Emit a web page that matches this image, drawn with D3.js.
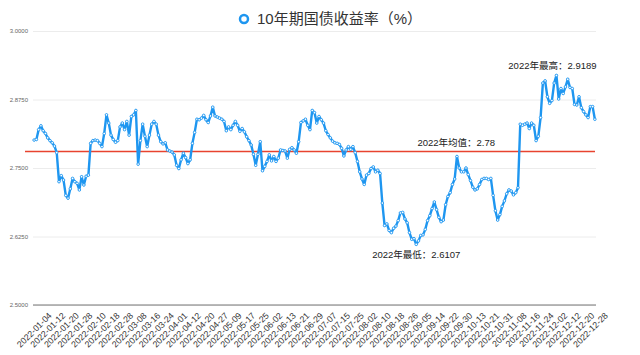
<!DOCTYPE html>
<html><head><meta charset="utf-8">
<script src="https://cdn.jsdelivr.net/npm/d3@7/dist/d3.min.js"></script>
<style>html,body{margin:0;padding:0;background:#fff;}svg{display:block;}</style>
</head><body><svg id="c" width="640" height="355"></svg>
<script>
const seriesName = "10年期国债收益率（%）";
const yields = [
2.801,2.802,2.820,2.827,2.818,2.813,2.805,2.800,2.796,2.790,
2.778,2.725,2.736,2.728,2.700,2.695,2.712,2.731,2.725,2.722,
2.710,2.734,2.719,2.735,2.737,2.795,2.800,2.801,2.800,2.795,
2.789,2.813,2.847,2.832,2.810,2.802,2.797,2.800,2.825,2.832,
2.820,2.835,2.810,2.844,2.847,2.855,2.757,2.800,2.830,2.808,
2.789,2.810,2.830,2.835,2.830,2.810,2.798,2.794,2.796,2.783,
2.781,2.779,2.774,2.755,2.749,2.765,2.777,2.769,2.758,2.765,
2.795,2.815,2.839,2.838,2.841,2.846,2.838,2.833,2.845,2.861,
2.845,2.843,2.841,2.839,2.835,2.818,2.825,2.820,2.828,2.835,
2.828,2.817,2.822,2.816,2.807,2.800,2.792,2.775,2.755,2.775,
2.798,2.745,2.753,2.762,2.774,2.763,2.771,2.762,2.768,2.783,
2.782,2.781,2.768,2.784,2.787,2.783,2.777,2.798,2.833,2.836,
2.839,2.828,2.820,2.855,2.851,2.832,2.844,2.838,2.832,2.818,
2.811,2.805,2.799,2.796,2.795,2.793,2.786,2.772,2.783,2.789,
2.784,2.789,2.778,2.762,2.743,2.730,2.720,2.737,2.740,2.749,
2.752,2.743,2.746,2.740,2.686,2.645,2.648,2.636,2.632,2.640,
2.644,2.654,2.668,2.669,2.657,2.650,2.632,2.620,2.621,2.6107,
2.617,2.627,2.628,2.638,2.654,2.663,2.676,2.688,2.674,2.660,
2.652,2.655,2.683,2.698,2.705,2.720,2.730,2.771,2.750,2.743,
2.743,2.750,2.738,2.727,2.715,2.710,2.712,2.720,2.729,2.731,
2.731,2.729,2.731,2.700,2.672,2.655,2.665,2.680,2.690,2.703,
2.710,2.708,2.701,2.705,2.714,2.830,2.828,2.830,2.832,2.822,
2.832,2.828,2.800,2.808,2.842,2.905,2.909,2.880,2.868,2.873,
2.905,2.9189,2.876,2.895,2.886,2.898,2.912,2.897,2.895,2.866,
2.865,2.880,2.860,2.853,2.847,2.842,2.862,2.862,2.839
];
const tickLabels = ["2022-01-04","2022-01-12","2022-01-20","2022-01-28","2022-02-10","2022-02-18","2022-02-28","2022-03-08","2022-03-16","2022-03-24","2022-04-01","2022-04-12","2022-04-20","2022-04-27","2022-05-09","2022-05-17","2022-05-25","2022-06-02","2022-06-13","2022-06-21","2022-06-29","2022-07-07","2022-07-15","2022-07-25","2022-08-02","2022-08-10","2022-08-18","2022-08-26","2022-09-05","2022-09-14","2022-09-22","2022-09-30","2022-10-13","2022-10-21","2022-10-31","2022-11-08","2022-11-16","2022-11-24","2022-12-02","2022-12-12","2022-12-20","2022-12-28"];
const labelStep = 6;
const yTicks = [2.5, 2.625, 2.75, 2.875, 3.0];
const avgValue = 2.78;

const svg = d3.select("#c");
const font = "'Liberation Sans','Noto Sans CJK SC',sans-serif";
const L = 33, R = 596, T = 31, B = 305;
const x = d3.scaleBand().domain(d3.range(yields.length)).range([L, R]);
const cx = i => x(i) + x.bandwidth() / 2;
const y = d3.scaleLinear().domain([2.5, 3.0]).range([B, T]);

// grid
const yAxis = d3.axisLeft(y).tickValues(yTicks).tickFormat(d3.format(".4f")).tickSize(-(R - L)).tickPadding(5);
const gy = svg.append("g").attr("transform", `translate(${L},0)`).call(yAxis);
gy.select(".domain").remove();
gy.selectAll(".tick line").attr("stroke", "#ececec").attr("stroke-width", 1);
gy.selectAll(".tick text").attr("fill", "#666").attr("font-size", 6).attr("font-family", font);
// bottom axis line
svg.append("line").attr("x1", L).attr("x2", R).attr("y1", y(2.5)).attr("y2", y(2.5))
  .attr("stroke", "#777").attr("stroke-width", 1.2);

// x labels
const xAxis = d3.axisBottom(x).tickValues(d3.range(0, yields.length, labelStep).filter(i => i / labelStep < tickLabels.length))
  .tickFormat(i => tickLabels[i / labelStep]).tickSize(0).tickPadding(0);
const gx = svg.append("g").attr("transform", `translate(0,${B})`).call(xAxis);
gx.select(".domain").remove();
gx.selectAll(".tick text")
  .attr("fill", "#333").attr("font-size", 8.8).attr("font-family", font)
  .attr("text-anchor", "end").attr("dy", "0.35em")
  .attr("transform", "translate(16,9) rotate(-45)");

// avg line
svg.append("line").attr("x1", L - 8).attr("x2", R - 1).attr("y1", y(avgValue)).attr("y2", y(avgValue))
  .attr("stroke", "#e8432f").attr("stroke-width", 1.5);

// series line
const color = "#1e96f0";
const line = d3.line().x((d, i) => cx(i)).y(d => y(d));
svg.append("path").datum(yields).attr("d", line).attr("fill", "none")
  .attr("stroke", color).attr("stroke-width", 2.4).attr("stroke-linejoin", "round");
svg.append("g").selectAll("circle").data(yields).join("circle")
  .attr("cx", (d, i) => cx(i)).attr("cy", d => y(d)).attr("r", 1.3)
  .attr("fill", "#fff").attr("stroke", color).attr("stroke-width", 0.9);

// annotations
const maxV = d3.max(yields), minV = d3.min(yields);
const maxI = yields.indexOf(maxV), minI = yields.indexOf(minV);
const ann = svg.append("g").attr("font-family", font).attr("font-size", 9.5).attr("fill", "#222");
ann.append("text").attr("x", cx(maxI) - 4).attr("y", y(maxV) - 10).attr("dy", "0.35em")
  .attr("text-anchor", "middle").text("2022年最高：" + d3.format(".4f")(maxV));
ann.append("text").attr("x", cx(minI)).attr("y", y(minV) + 10).attr("dy", "0.35em")
  .attr("text-anchor", "middle").text("2022年最低：" + d3.format(".4f")(minV));
ann.append("text").attr("x", R - 101).attr("y", y(avgValue) - 9).attr("dy", "0.35em")
  .attr("text-anchor", "end").text("2022年均值：" + avgValue);

// legend / title
const lg = svg.append("g").attr("font-family", font);
lg.append("circle").attr("cx", 244).attr("cy", 19).attr("r", 4).attr("fill", "#fff")
  .attr("stroke", color).attr("stroke-width", 2.5);
lg.append("text").attr("x", 257).attr("y", 19).attr("dy", "0.35em").attr("font-size", 15)
  .attr("fill", "#333").text(seriesName);
</script></body></html>
